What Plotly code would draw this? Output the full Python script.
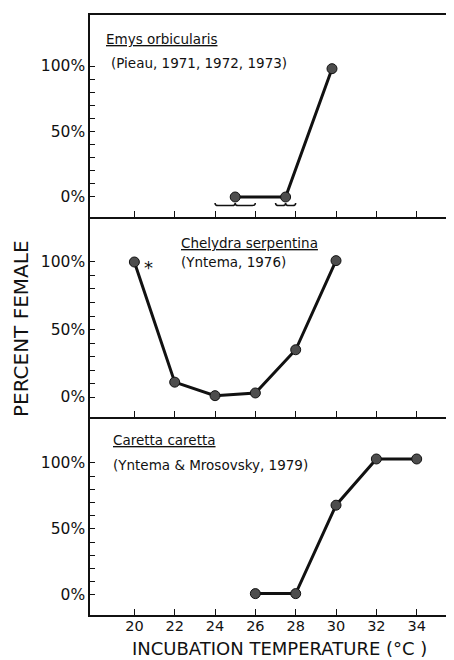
import plotly.graph_objects as go

# ---- data ----
emys_temp = [25, 27.5, 29.8]
emys_female = [0, 0, 98]
emys_brackets = [(24, 26), (27, 28)]

chelydra_temp = [20, 22, 24, 26, 28, 30]
chelydra_female = [100, 11, 1, 3, 35, 101]

caretta_temp = [26, 28, 30, 32, 34]
caretta_female = [1, 1, 68, 103, 103]

x_ticks = [20, 22, 24, 26, 28, 30, 32, 34]
y_ticks = list(range(0, 101, 10))
y_ticktext = ["0%" if v == 0 else "50%" if v == 50 else "100%" if v == 100 else "" for v in y_ticks]

FONT = "DejaVu Sans"
INK = "#111111"

fig = go.Figure()

panels = [
    (emys_temp, emys_female, "x", "y"),
    (chelydra_temp, chelydra_female, "x2", "y2"),
    (caretta_temp, caretta_female, "x3", "y3"),
]
for xs, ys, xa, ya in panels:
    fig.add_trace(go.Scatter(
        x=xs, y=ys, xaxis=xa, yaxis=ya, mode="lines+markers",
        line=dict(color=INK, width=3),
        marker=dict(size=10, color="#4d4d4d", line=dict(color=INK, width=1)),
        showlegend=False, hoverinfo="skip",
    ))

x_range = [17.8, 35.85]

def xaxis_cfg(anchor, labels, mirror=False):
    return dict(
        range=x_range, domain=[0, 1], anchor=anchor,
        tickvals=x_ticks, ticks="inside", ticklen=6, tickwidth=1.3, tickcolor=INK,
        showticklabels=labels, showgrid=False, zeroline=False,
        showline=True, linecolor=INK, linewidth=1.5, mirror=mirror,
        ticklabelstandoff=-3,
        tickfont=dict(family=FONT, size=14.5, color=INK), fixedrange=True,
    )

def yaxis_cfg(anchor, domain, rng):
    return dict(
        range=rng, domain=domain, anchor=anchor,
        tickvals=y_ticks, ticktext=y_ticktext,
        ticks="inside", ticklen=5, tickwidth=1.2, tickcolor=INK,
        showgrid=False, zeroline=False,
        showline=True, linecolor=INK, linewidth=1.5,
        tickfont=dict(family=FONT, size=15.5, color=INK), fixedrange=True,
    )

# page body has an 8px margin; size/margins compensate so the plot lands where intended
fig.update_layout(
    width=446, height=652,
    margin=dict(l=82, r=0, t=7, b=45, autoexpand=False),
    paper_bgcolor="white", plot_bgcolor="white",
    xaxis=xaxis_cfg("y", False, mirror=True),
    xaxis2=xaxis_cfg("y2", False),
    xaxis3=xaxis_cfg("y3", True),
    yaxis=yaxis_cfg("x", [0.6633, 1.0], [-15.3, 139]),
    yaxis2=yaxis_cfg("x2", [0.33, 0.6633], [-14.8, 133.3]),
    yaxis3=yaxis_cfg("x3", [0.0, 0.33], [-15.2, 134.8]),
    font=dict(family=FONT, color=INK),
)

# braces under Emys points
for x0, x1 in emys_brackets:
    xm = (x0 + x1) / 2
    yb, yt = -6.5, -4.5
    e = 0.15
    path = (f"M {x0},{yt} Q {x0},{yb} {x0+e},{yb} L {xm-e},{yb} Q {xm},{yb} {xm},{yt} "
            f"Q {xm},{yb} {xm+e},{yb} L {x1-e},{yb} Q {x1},{yb} {x1},{yt}")
    fig.add_shape(type="path", path=path, xref="x", yref="y",
                  line=dict(color=INK, width=1.5))

labels = [
    ("x", "y", 18.5, 121, "<u>Emys orbicularis</u>"),
    ("x", "y", 18.75, 102, "(Pieau, 1971, 1972, 1973)"),
    ("x2", "y2", 22.2, 114, "<u>Chelydra serpentina</u>"),
    ("x2", "y2", 22.2, 100, "(Yntema, 1976)"),
    ("x3", "y3", 18.85, 117, "<u>Caretta caretta</u>"),
    ("x3", "y3", 18.85, 98.5, "(Yntema &amp; Mrosovsky, 1979)"),
]
for xr, yr, x, y, t in labels:
    fig.add_annotation(x=x, y=y, xref=xr, yref=yr, text=t, showarrow=False,
                       xanchor="left", yanchor="middle",
                       font=dict(family=FONT, size=13.5, color=INK))

fig.add_annotation(x=20.7, y=96, xref="x2", yref="y2", text="*", showarrow=False,
                   font=dict(family=FONT, size=18, color=INK))

fig.add_annotation(x=-0.19, y=0.478, xref="paper", yref="paper", text="PERCENT FEMALE",
                   textangle=-90, showarrow=False, xanchor="center", yanchor="middle",
                   font=dict(family=FONT, size=20, color=INK))
fig.add_annotation(x=0.52, y=-0.056, xref="paper", yref="paper",
                   text="INCUBATION TEMPERATURE (°C )", showarrow=False,
                   xanchor="center", yanchor="middle",
                   font=dict(family=FONT, size=18, color=INK))

fig.write_html("out.html")
